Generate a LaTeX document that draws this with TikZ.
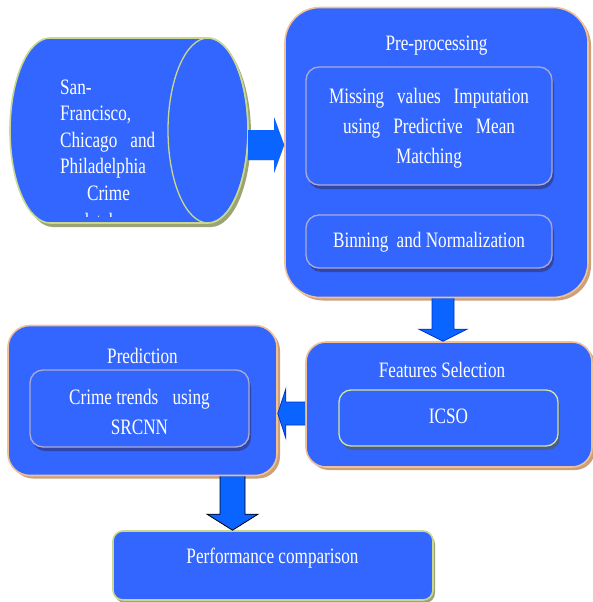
\documentclass[tikz,border=0pt]{standalone}
\usepackage{fontspec}
\setmainfont[FakeStretch=0.78]{Liberation Serif}
\usetikzlibrary{shadows,calc}
\definecolor{mainblue}{RGB}{51,102,255}
\definecolor{arrowblue}{RGB}{10,100,255}
\definecolor{arrowedge}{RGB}{0,50,210}
\definecolor{tanborder}{RGB}{240,192,150}
\definecolor{tanshadow}{RGB}{205,160,120}
\definecolor{innerborder}{RGB}{170,170,215}
\definecolor{innershadow}{RGB}{50,70,170}
\definecolor{greenborder}{RGB}{210,228,160}
\definecolor{greenshadow}{RGB}{70,95,145}
\definecolor{khakiborder}{RGB}{200,215,145}
\definecolor{khakishadow}{RGB}{155,165,115}
\definecolor{arrowshadow}{RGB}{130,135,165}
\begin{document}
\begin{tikzpicture}[x=1pt,y=-1pt,
  txt/.style={text=white, font=\fontsize{22}{30}\selectfont, inner sep=0pt, anchor=base},
  bigbox/.style={fill=mainblue, draw=tanborder, line width=1.6pt,
     drop shadow={shadow xshift=3pt, shadow yshift=-3pt, fill=tanshadow, opacity=1}},
  innerbox/.style={fill=mainblue, draw=innerborder, line width=1.3pt, rounded corners=13pt,
     drop shadow={shadow xshift=2pt, shadow yshift=-4pt, fill=innershadow, opacity=1}},
  greenbox/.style={fill=mainblue, draw=greenborder, line width=1.3pt, rounded corners=12pt,
     drop shadow={shadow xshift=2pt, shadow yshift=-4pt, fill=greenshadow, opacity=1}},
  perfbox/.style={fill=mainblue, draw=khakiborder, line width=1.6pt, rounded corners=10pt,
     drop shadow={shadow xshift=2pt, shadow yshift=-3pt, fill=khakishadow, opacity=1}},
  blockarrow/.style={fill=arrowblue, draw=arrowedge, line width=0.8pt},
]
\useasboundingbox (0,0) rectangle (593,602);

% ---- cylinder (data source)
\fill[khakishadow] (211,42) -- (53,42) arc[start angle=270, end angle=90, x radius=40, y radius=92.5]
  -- (211,227) arc[start angle=90, end angle=-90, x radius=40, y radius=92.5] -- cycle;
\filldraw[fill=mainblue, draw=khakiborder, line width=1.6pt]
  (208,38) -- (50,38) arc[start angle=270, end angle=90, x radius=40, y radius=92.5]
  -- (208,223) arc[start angle=90, end angle=-90, x radius=40, y radius=92.5] -- cycle;
\draw[khakiborder, line width=1.3pt] (208,130.5) ellipse[x radius=40, y radius=92.5];
\node[minimum width=238pt, minimum height=185pt, inner sep=0pt] (cyl) at (129,130.5) {};
\begin{scope}
  \clip (0,0) rectangle (248,216);
  \node[txt, anchor=base west] (c1) at (60,94) {San-};
  \node[txt, anchor=base west] (c2) at (60,120.5) {Francisco,};
  \node[txt, anchor=base west] (c3) at (60,147) {\makebox[95pt][s]{Chicago and}};
  \node[txt, anchor=base west] (c4) at (60,173.5) {Philadelphia};
  \node[txt] (c5) at (108.5,200) {Crime};
  \node[txt] (c6) at (110,228.5) {database};
\end{scope}

% ---- Pre-processing
\node[bigbox, rounded corners=35pt, minimum width=303pt, minimum height=290pt] (pre) at (436.5,152.5) {};
\node[txt] (pretitle) at (436.5,51) {Pre-processing};
\node[innerbox, minimum width=246pt, minimum height=118pt] (mv) at (429,126) {};
\node[txt] (mv1) at (429,103) {\makebox[200pt][s]{Missing values Imputation}};
\node[txt] (mv2) at (429,133) {\makebox[172pt][s]{using Predictive Mean}};
\node[txt] (mv3) at (429,163) {Matching};
\node[innerbox, minimum width=246pt, minimum height=53pt] (bn) at (429,241.5) {};
\node[txt] (bntext) at (429,247) {Binning\hspace{4pt} and Normalization};

% ---- Features Selection
\node[bigbox, rounded corners=20pt, minimum width=286pt, minimum height=125pt] (feat) at (449,404.5) {};
\node[txt] (feattitle) at (442,377) {Features Selection};
\node[greenbox, minimum width=219pt, minimum height=56pt] (icso) at (448.5,418) {};
\node[txt] (icsotext) at (448.5,423) {ICSO};

% ---- Prediction
\node[bigbox, rounded corners=22pt, minimum width=269pt, minimum height=150pt] (pred) at (142.5,400.5) {};
\node[txt] (predtitle) at (142.5,363) {Prediction};
\node[innerbox, minimum width=219pt, minimum height=77pt] (crime) at (139.5,408.5) {};
\node[txt] (cr1) at (139.5,404) {Crime trends\hspace{10pt} using};
\node[txt] (cr2) at (139.5,434) {SRCNN};

% ---- Performance comparison
\node[perfbox, minimum width=320pt, minimum height=69pt] (perf) at (273,565.5) {};
\node[txt] (perftext) at (272.5,563) {Performance comparison};

% ---- connectors (block arrows)
% cylinder -> pre-processing
\path (cyl.east) ++(0,14.5) coordinate (bs);
\path (bs -| pre.west) coordinate (be);
\fill[arrowshadow, shift={(2,4)}] ($(bs)+(0,-15)$) -- ($(be)+(-10,-15)$) -- ($(be)+(-10,-27.5)$) -- (be)
  -- ($(be)+(-10,27.5)$) -- ($(be)+(-10,15)$) -- ($(bs)+(0,15)$) -- cycle;
\fill[arrowblue] ($(bs)+(0,-15)$) -- ($(be)+(-10,-15)$) -- ($(be)+(-10,-27.5)$) -- (be)
  -- ($(be)+(-10,27.5)$) -- ($(be)+(-10,15)$) -- ($(bs)+(0,15)$) -- cycle;

% pre-processing -> features selection
\path (pre.south) ++(6.5,0) coordinate (as);
\path (as |- feat.north) coordinate (ae);
\draw[blockarrow] ($(as)+(-11,0)$) -- ($(ae)+(-11,-12)$) -- ($(ae)+(-24,-12)$) -- (ae)
  -- ($(ae)+(24,-12)$) -- ($(ae)+(11,-12)$) -- ($(as)+(11,0)$);

% features selection -> prediction
\path (feat.west) ++(0,9) coordinate (cs);
\path (cs -| pred.east) coordinate (ce);
\draw[blockarrow] ($(cs)+(0,-11.5)$) -- ($(ce)+(8,-11.5)$) -- ($(ce)+(8,-24.5)$) -- (ce)
  -- ($(ce)+(8,24.5)$) -- ($(ce)+(8,11.5)$) -- ($(cs)+(0,11.5)$);

% prediction -> performance comparison
\path (pred.south) ++(90,0) coordinate (ds);
\path (ds |- perf.north) coordinate (de);
\draw[blockarrow, draw=black] ($(ds)+(-12.5,0)$) -- ($(de)+(-12.5,-16)$) -- ($(de)+(-25.5,-16)$) -- (de)
  -- ($(de)+(25.5,-16)$) -- ($(de)+(12.5,-16)$) -- ($(ds)+(12.5,0)$);
\end{tikzpicture}
\end{document}
